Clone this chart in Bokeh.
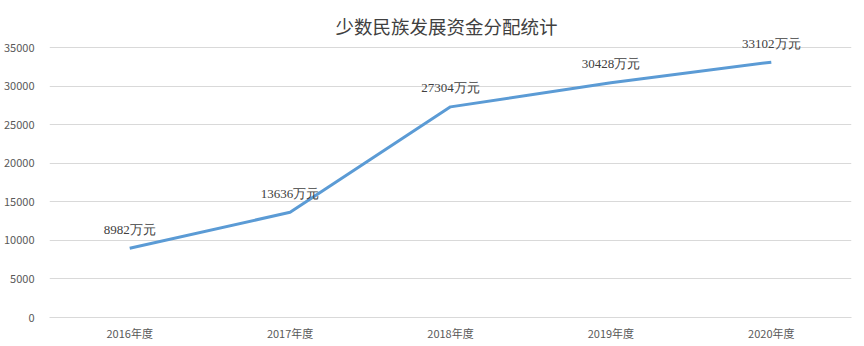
from bokeh.plotting import figure
from bokeh.models import ColumnDataSource, LabelSet, Label, Range1d, FixedTicker
from bokeh.embed import file_html
from bokeh.resources import INLINE

years = ["2016年度", "2017年度", "2018年度", "2019年度", "2020年度"]
funds = [8982, 13636, 27304, 30428, 33102]
labels = [f"{v}万元" for v in funds]
y_ticks = [0, 5000, 10000, 15000, 20000, 25000, 30000, 35000]
title_text = "少数民族发展资金分配统计"

FONT = "Noto Sans CJK SC"

# layout (pixels): value 0 at y=317, value 35000 at y=47, frame starts at y=0
W, H = 864, 346
ZERO_PX, TOP_PX = 317, 47
px_per_unit = (ZERO_PX - TOP_PX) / y_ticks[-1]
y_end = ZERO_PX / px_per_unit
title_y = (ZERO_PX - 25) / px_per_unit

src = ColumnDataSource(dict(x=years, y=funds, t=labels))

p = figure(width=W, height=H, x_range=years, y_range=Range1d(0, y_end),
           output_backend="svg", toolbar_location=None)
p.min_border_left = 46
p.min_border_right = 13
p.min_border_top = 0
p.min_border_bottom = H - ZERO_PX
p.outline_line_color = None
p.background_fill_color = "white"
p.border_fill_color = "white"

p.line("x", "y", source=src, line_color="#5B9BD5", line_width=3)

lbl = LabelSet(x="x", y="y", text="t", source=src, y_offset=19,
               text_align="center", text_baseline="middle",
               text_font=FONT, text_font_size="13px", text_color="#404040")
p.add_layout(lbl)

title = Label(x=len(years) / 2, y=title_y, text=title_text, x_offset=-4,
              text_align="center", text_baseline="middle",
              text_font=FONT, text_font_size="18.5px", text_font_style="normal",
              text_color="#404040")
p.add_layout(title)

p.yaxis.ticker = FixedTicker(ticks=y_ticks)
p.yaxis.axis_line_color = None
p.yaxis.major_tick_line_color = None
p.yaxis.minor_tick_line_color = None
p.yaxis.major_label_text_font = FONT
p.yaxis.major_label_text_font_size = "11px"
p.yaxis.major_label_text_color = "#595959"
p.yaxis.major_label_standoff = 9

p.xaxis.axis_line_color = "#d9d9d9"
p.xaxis.major_tick_line_color = None
p.xaxis.minor_tick_line_color = None
p.xaxis.major_label_text_font = FONT
p.xaxis.major_label_text_font_size = "11px"
p.xaxis.major_label_text_color = "#595959"
p.xaxis.major_label_standoff = 1

p.xgrid.grid_line_color = None
p.ygrid.grid_line_color = "#d9d9d9"
p.ygrid.ticker = FixedTicker(ticks=y_ticks)

open("out.html", "w").write(file_html(p, INLINE))
